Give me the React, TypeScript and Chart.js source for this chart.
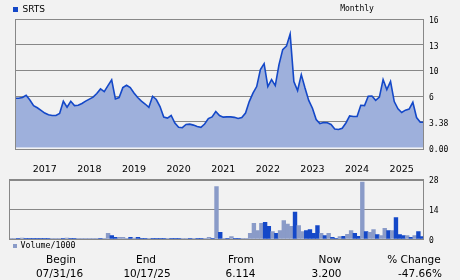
import React, { useEffect, useRef } from "react";
import { Chart, registerables } from "chart.js";

Chart.register(...registerables);

const symbol = "SRTS";
const period = "Monthly";
const volumeLegend = "Volume/1000";
const startYear = 2016;
const startMonth = 8;

// Monthly closing prices, Aug 2016 .. Oct 2025
const price = [
  5.78, 5.78, 5.85, 6.13, 5.6, 5.03, 4.81, 4.55, 4.27, 4.1,
  4.02, 4.02, 4.22, 5.47, 4.86, 5.47, 5.03, 5.06, 5.24, 5.48,
  5.69, 5.89, 6.39, 7.12, 6.7, 7.63, 8.52, 5.72, 5.85, 7.32,
  7.68, 7.32, 6.47, 5.85, 5.49, 5.19, 4.86, 5.98, 5.65, 4.93,
  3.86, 3.76, 4.02, 3.22, 2.65, 2.6, 3.02, 3.07, 2.94, 2.77,
  2.64, 3.09, 3.71, 3.88, 4.42, 4.02, 3.85, 3.88, 3.88, 3.83,
  3.71, 3.81, 4.27, 5.44, 6.47, 7.48, 10.09, 10.79, 7.48, 8.57,
  7.63, 10.67, 12.42, 12.83, 14.25, 8.26, 6.86, 9.34, 7.25, 5.56,
  4.76, 3.61, 3.15, 3.29, 3.25, 3.02, 2.43, 2.36, 2.53, 3.22,
  3.97, 3.92, 3.92, 5.06, 5.03, 5.98, 6.0, 5.57, 5.9, 8.57,
  7.01, 8.3, 5.44, 4.7, 4.32, 4.56, 4.67, 5.37, 3.81, 3.32,
  3.32,
];

// Monthly volume (thousands)
const volume = [
  0.3, 0.3, 0.3, 0.4, 0.3, 0.3, 0.3, 0.3, 0.3, 0.3,
  0.3, 0.1, 0.1, 0.1, 0.1, 0.4, 0.3, 0.3, 0.3, 0.3,
  0.3, 0.3, 0.3, 0.1, 0.2, 0.1, 2.7, 1.6, 0.8, 0.8,
  0.8, 0.3, 0.8, 0.4, 0.8, 0.2, 0.2, 0.1, 0.2, 0.2,
  0.3, 0.3, 0.1, 0.3, 0.3, 0.1, 0.1, 0.1, 0.1, 0.1,
  0.2, 0.2, 0.2, 0.8, 0.3, 24.8, 3.2, 0.3, 0.1, 1.1,
  0.3, 0.3, 0.3, 0.3, 2.7, 7.4, 4, 7.4, 7.9, 6,
  3.5, 2.7, 4, 8.7, 7, 6, 12.7, 6.3, 3.5, 4,
  4.4, 2.7, 6.3, 2.7, 1.6, 2.7, 0.8, 0.3, 1.1, 1.3,
  2.2, 4, 2.7, 1.3, 26.9, 3.5, 3.2, 4.4, 2.1, 1.6,
  5.1, 4, 4, 10.1, 2.1, 1.6, 1.6, 0.8, 1.6, 3.5,
  1.1,
];

// 1 = dark bar, 0 = light bar
const volumeUp = [
  0, 0, 1, 0, 1, 1, 1, 1, 1, 1,
  1, 0, 0, 0, 1, 0, 1, 1, 0, 0,
  0, 0, 0, 0, 1, 0, 0, 1, 1, 0,
  0, 0, 1, 0, 1, 1, 1, 0, 1, 1,
  1, 1, 0, 1, 1, 1, 0, 0, 1, 0,
  1, 1, 0, 0, 1, 0, 1, 0, 1, 0,
  1, 1, 0, 0, 0, 0, 0, 0, 1, 1,
  0, 1, 0, 0, 0, 0, 1, 0, 0, 1,
  1, 1, 1, 0, 1, 0, 1, 1, 0, 1,
  0, 0, 1, 1, 0, 1, 0, 0, 1, 0,
  0, 1, 0, 1, 1, 1, 0, 1, 0, 1,
  1,
];

const priceLevels = [0, 3.38, 6, 10, 13, 16];
const priceTickLabels = ["0.00", "3.38", "6", "10", "13", "16"];
const volumeTicks = [0, 14, 28];
const footerLabels = ["Begin", "End", "From", "Now", "% Change"];
const footerValues = ["07/31/16", "10/17/25", "6.114", "3.200", "-47.66%"];

const months = price.map((_, i) => {
  const t = startMonth - 1 + i;
  const y = startYear + Math.floor(t / 12);
  const mo = (t % 12) + 1;
  return `${y}-${String(mo).padStart(2, "0")}`;
});

// position of a price on the chart's non-linear price axis (in grid steps)
function toLevel(p: number): number {
  for (let i = 0; i < priceLevels.length - 1; i++) {
    const a = priceLevels[i];
    const b = priceLevels[i + 1];
    if (p <= b || i === priceLevels.length - 2) return i + (p - a) / (b - a);
  }
  return 0;
}

const BG = "#f2f2f2";
const GRID = "#888888";
const LINE = "#1448c8";
const FILL = "#9eb0dc";
const LIGHT = "#8a9bc8";
const MONO = "'DejaVu Sans Mono', monospace";
const SANS = "'DejaVu Sans', sans-serif";

const boxPlugin = {
  id: "box",
  afterDraw(chart: any) {
    const { ctx, chartArea: a } = chart;
    ctx.save();
    ctx.strokeStyle = GRID;
    ctx.lineWidth = 1;
    ctx.strokeRect(Math.round(a.left) + 0.5, Math.round(a.top) + 0.5, Math.round(a.right - a.left) - 1, Math.round(a.bottom - a.top));
    ctx.restore();
  },
};

export default function App() {
  const priceRef = useRef<HTMLCanvasElement>(null);
  const volRef = useRef<HTMLCanvasElement>(null);

  useEffect(() => {
    const pc = new Chart(priceRef.current!, {
      type: "line",
      data: {
        labels: months,
        datasets: [
          {
            data: price.map(toLevel),
            borderColor: LINE,
            borderWidth: 1.6,
            backgroundColor: FILL,
            fill: "origin",
            pointRadius: 0,
            tension: 0,
          },
        ],
      },
      options: {
        animation: false,
        responsive: false,
        maintainAspectRatio: false,
        layout: { padding: { left: 9, top: 19, right: 0, bottom: 0 } },
        plugins: { legend: { display: false }, tooltip: { enabled: false } },
        scales: {
          x: {
            type: "category",
            offset: false,
            grid: { display: false, drawTicks: false },
            border: { display: false },
            ticks: {
              autoSkip: false,
              maxRotation: 0,
              minRotation: 0,
              padding: 15,
              color: "#000",
              font: { family: SANS, size: 9.5 },
              callback: (_v: any, i: number) => (months[i].endsWith("-04") ? months[i].slice(0, 4) : ""),
            },
            afterFit: (s: any) => {
              s.height = 29;
            },
          },
          y: {
            position: "right",
            min: -0.06,
            max: 5,
            afterBuildTicks: (s: any) => {
              s.ticks = priceLevels.map((_, i) => ({ value: i }));
            },
            ticks: {
              color: "#000",
              padding: 5,
              labelOffset: 2,
              font: { family: MONO, size: 8 },
              callback: (v: any) => priceTickLabels[v as number],
            },
            grid: {
              drawTicks: false,
              lineWidth: 1,
              color: (c: any) => (c.tick && c.tick.value === 0 ? "#ffffff" : GRID),
            },
            border: { display: false },
            afterFit: (s: any) => {
              s.width = 36;
            },
          },
        },
      },
      plugins: [boxPlugin],
    } as any);

    const vc = new Chart(volRef.current!, {
      type: "bar",
      data: {
        labels: months,
        datasets: [
          {
            data: volume,
            backgroundColor: volumeUp.map((u) => (u ? LINE : LIGHT)),
            borderWidth: 0,
            categoryPercentage: 1,
            barPercentage: 1,
          },
        ],
      },
      options: {
        animation: false,
        responsive: false,
        maintainAspectRatio: false,
        layout: { padding: { left: 9, top: 9, right: 0, bottom: 11 } },
        plugins: { legend: { display: false }, tooltip: { enabled: false } },
        scales: {
          x: { type: "category", display: false, offset: true },
          y: {
            position: "right",
            min: 0,
            max: 28,
            afterBuildTicks: (s: any) => {
              s.ticks = volumeTicks.map((v) => ({ value: v }));
            },
            ticks: {
              color: "#000",
              padding: 5,
              labelOffset: 1.5,
              font: { family: MONO, size: 8 },
              callback: (v: any) => String(v),
            },
            grid: { drawTicks: false, lineWidth: 1, color: GRID },
            border: { display: false },
            afterFit: (s: any) => {
              s.width = 36;
            },
          },
        },
      },
      plugins: [boxPlugin],
    } as any);

    return () => {
      pc.destroy();
      vc.destroy();
    };
  }, []);

  const footerHeadCenters = [61, 146, 241, 330, 414];
  const footerValCenters = [59.5, 147, 240.5, 326.5, 420];

  return (
    <div
      style={{
        position: "absolute",
        left: 0,
        top: 0,
        width: 460,
        height: 280,
        background: BG,
        overflow: "hidden",
        color: "#000",
      }}
    >
      <canvas ref={priceRef} width={460} height={178} style={{ position: "absolute", left: 0, top: 0, display: "block" }} />
      <canvas ref={volRef} width={460} height={80} style={{ position: "absolute", left: 0, top: 170, display: "block" }} />
      <div style={{ position: "absolute", left: 13, top: 7, width: 5, height: 5, background: LINE }} />
      <div style={{ position: "absolute", left: 22.5, top: 3, font: `9px ${SANS}`, lineHeight: "12px" }}>{symbol}</div>
      <div style={{ position: "absolute", left: 317, width: 80, textAlign: "center", top: 3, font: `8px ${MONO}`, lineHeight: "12px" }}>{period}</div>
      <div style={{ position: "absolute", left: 13, top: 244, width: 4, height: 4, background: LIGHT }} />
      <div style={{ position: "absolute", left: 20.5, top: 240, font: `8.3px ${MONO}`, lineHeight: "11px" }}>{volumeLegend}</div>
      {footerLabels.map((t, i) => (
        <div
          key={"h" + i}
          style={{ position: "absolute", left: footerHeadCenters[i] - 50, width: 100, textAlign: "center", top: 252, font: `10.5px ${SANS}`, lineHeight: "14px", whiteSpace: "pre" }}
        >
          {t}
        </div>
      ))}
      {footerValues.map((t, i) => (
        <div
          key={"v" + i}
          style={{ position: "absolute", left: footerValCenters[i] - 50, width: 100, textAlign: "center", top: 266, font: `10.5px ${SANS}`, lineHeight: "14px", whiteSpace: "pre" }}
        >
          {t}
        </div>
      ))}
    </div>
  );
}
